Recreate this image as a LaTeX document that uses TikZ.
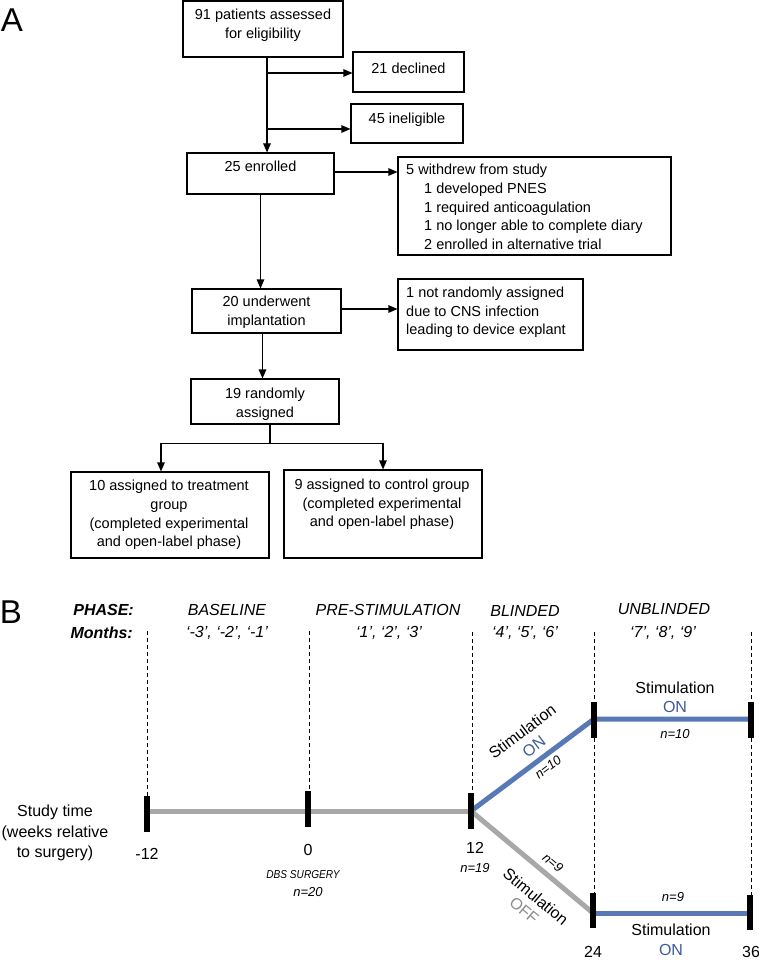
\documentclass[tikz,border=0pt]{standalone}
\usepackage{fontspec}
\setmainfont{Liberation Sans}
\usetikzlibrary{arrows.meta,calc}
\definecolor{stimblue}{RGB}{88,120,182}
\definecolor{onblue}{RGB}{62,90,150}
\definecolor{tlgray}{RGB}{168,168,168}
\definecolor{offgray}{RGB}{140,140,140}
\begin{document}
\begin{tikzpicture}[x=1pt,y=-1pt,
  box/.style={draw,line width=1.1pt,inner sep=0pt,minimum width=#1},
  ftxt/.style={font=\fontsize{14.5}{18.6}\selectfont,inner sep=0pt,align=center},
  ltxt/.style={font=\fontsize{14.5}{18.6}\selectfont,inner sep=0pt,align=left,anchor=west},
  arr/.style={line width=1.1pt,-{Triangle[length=9pt,width=7.5pt]}},
  conn/.style={line width=1.1pt},
  btxt/.style={font=\fontsize{16}{20.5}\selectfont,inner sep=0pt,align=center},
  itxt/.style={font=\fontsize{16}{20}\selectfont\itshape,inner sep=0pt},
  ntxt/.style={font=\fontsize{13}{15}\selectfont\itshape,inner sep=0pt},
  vdash/.style={line width=0.8pt,dash pattern=on 4pt off 3pt},
  bar/.style={line width=6pt},
  panel/.style={font=\fontsize{33}{33}\selectfont,inner sep=0pt}
]
\useasboundingbox (0,0) rectangle (758,960);

% ---------- Panel A ----------
\node[panel] (A) at (12,20) {A};

\node[box=160pt,minimum height=56pt] (b1) at (263,29) {};
\node[ftxt] (b1t) at (263,25) {91 patients assessed\\for eligibility};

\node[box=111pt,minimum height=40pt] (decl) at (408.5,72) {};
\node[ftxt] (declt) at (408.5,68) {21 declined};

\node[box=112pt,minimum height=39pt] (inel) at (407,123.5) {};
\node[ftxt] (inelt) at (407,120) {45 ineligible};

\node[box=147pt,minimum height=41pt] (enr) at (260.5,173.5) {};
\node[ftxt] (enrt) at (260.5,166) {25 enrolled};

\node[box=273pt,minimum height=98pt] (wd) at (534.5,206) {};
\node[ltxt] (wdt) at (406,207) {5 withdrew from study\\
\hspace*{18pt}1 developed PNES\\
\hspace*{18pt}1 required anticoagulation\\
\hspace*{18pt}1 no longer able to complete diary\\
\hspace*{18pt}2 enrolled in alternative trial};

\node[box=149pt,minimum height=44pt] (impl) at (266.5,311) {};
\node[ftxt] (implt) at (266.5,312.5) {20 underwent\\implantation};

\node[box=185pt,minimum height=71pt] (nr) at (490.5,314.5) {};
\node[ltxt] (nrt) at (406,312.5) {1 not randomly assigned\\due to CNS infection\\leading to device explant};

\node[box=148pt,minimum height=45pt] (rand) at (265,401.5) {};
\node[ftxt] (randt) at (265,404) {19 randomly\\assigned};

\node[box=198pt,minimum height=86pt] (trt) at (170,515) {};
\node[ftxt] (trtt) at (169,515) {10 assigned to treatment\\group\\(completed experimental\\and open-label phase)};

\node[box=198pt,minimum height=88pt] (ctl) at (383,514) {};
\node[ftxt] (ctlt) at (382,504.5) {9 assigned to control group\\(completed experimental\\and open-label phase)};

% connectors
\coordinate (v) at ($(b1.south)+(4,0)$);
\draw[arr] (v) -- (v |- enr.north);
\draw[arr] ($(v |- decl.west)+(0,1)$) -- ($(decl.west)+(0,1)$);
\draw[arr] ($(v |- inel.west)+(0,5.5)$) -- ($(inel.west)+(0,5.5)$);
\draw[arr] ($(enr.east)+(0,-1.5)$) -- ($(enr.east -| wd.west)+(0,-1.5)$);
\draw[arr] (enr.south) -- (enr.south |- impl.north);
\draw[arr] ($(impl.east)+(0,-2)$) -- ($(impl.east -| nr.west)+(0,-2)$);
\coordinate (v2) at ($(impl.south)+(-4,0)$);
\draw[arr] (v2) -- (v2 |- rand.north);
\coordinate (sp) at ($(rand.south)+(5,19)$);
\draw[conn] (rand.south -| sp) -- (sp);
\coordinate (tl) at ($(trt.north)+(-9,0)$);
\draw[arr] (sp) -| (tl);
\draw[arr] (sp) -| (ctl.north);

% ---------- Panel B ----------
\node[panel] (B) at (11,612) {B};
\node[font=\fontsize{16}{20}\selectfont\bfseries\itshape,inner sep=0pt,anchor=east] (phase) at (134,610) {PHASE:};
\node[font=\fontsize{16}{20}\selectfont\bfseries\itshape,inner sep=0pt,anchor=east] (months) at (133,633) {Months:};

\node[itxt] (p1) at (227,610) {BASELINE};
\node[itxt] (p2) at (388,610) {PRE-STIMULATION};
\node[itxt] (p3) at (525,611) {BLINDED};
\node[itxt] (p4) at (664,609) {UNBLINDED};
\node[itxt] (m1) at (227,633) {‘-3’, ‘-2’, ‘-1’};
\node[itxt] (m2) at (389,633) {‘1’, ‘2’, ‘3’};
\node[itxt] (m3) at (525,633) {‘4’, ‘5’, ‘6’};
\node[itxt] (m4) at (663,633) {‘7’, ‘8’, ‘9’};

% tick bar positions
\coordinate (t1) at (147,814);
\coordinate (t2) at (308,809);
\coordinate (t3) at (471,811);
\coordinate (t4) at (594,719);
\coordinate (t5) at (751,719);
\coordinate (t6) at (593,913);
\coordinate (t7) at (750,913);

% dashed guides
\draw[vdash] (147,631) -- ($(t1)+(0,-18)$);
\draw[vdash] (309,631) -- ($(t2)+(1,-18)$);
\draw[vdash] (472,632) -- ($(t3)+(1,-18)$);
\draw[vdash] (594,632) -- ($(t4)+(0,-17)$);
\draw[vdash] ($(t4)+(0,19)$) -- ($(t6)+(1,-20)$);
\draw[vdash] (751,632) -- ($(t5)+(0,-17)$);
\draw[vdash] ($(t5)+(0,19)$) -- ($(t7)+(1,-18)$);

% timeline
\draw[tlgray,line width=5pt] (t1 |- t3) -- (t3);
\draw[stimblue,line width=5pt] (t3) -- (t4) -- (t5);
\draw[tlgray,line width=5pt] (t3) -- (t6);
\draw[stimblue,line width=5pt] (t6) -- (t7);

\draw[bar] ($(t1)+(0,-18)$) -- ($(t1)+(0,18)$);
\draw[bar] ($(t2)+(0,-18)$) -- ($(t2)+(0,18)$);
\draw[bar] ($(t3)+(0,-18)$) -- ($(t3)+(0,18)$);
\draw[bar] ($(t4)+(0,-17)$) -- ($(t4)+(0,19)$);
\draw[bar] ($(t5)+(0,-17)$) -- ($(t5)+(0,19)$);
\draw[bar] ($(t6)+(0,-20)$) -- ($(t6)+(0,15)$);
\draw[bar] ($(t7)+(0,-18)$) -- ($(t7)+(0,17)$);

% labels
\node[btxt] (st) at (55,833) {Study time\\(weeks relative\\to surgery)};
\node[btxt] (l1) at (147,854) {-12};
\node[btxt] (l2) at (308,850) {0};
\node[btxt] (l3) at (475,848) {12};
\node[btxt] (l4) at (593,952) {24};
\node[btxt] (l5) at (751,952) {36};
\node[font=\fontsize{11.5}{13}\selectfont\itshape,inner sep=0pt,xscale=0.88] (dbs) at (303,875) {DBS SURGERY};
\node[ntxt] (n20) at (308,892) {n=20};
\node[ntxt] (n19) at (475,868) {n=19};

\node[btxt,font=\fontsize{16}{19.5}\selectfont] (s1) at (675,697.5) {Stimulation\\\textcolor{onblue}{ON}};
\node[ntxt] (n10a) at (675,734) {n=10};

\node[btxt,font=\fontsize{16}{20}\selectfont] (s2) at (671,940) {Stimulation\\\textcolor{onblue}{ON}};
\node[ntxt] (n9a) at (673,897) {n=9};

\node[btxt,rotate=37,font=\fontsize{16}{19}\selectfont] (s3) at (528,739) {Stimulation\\\textcolor{onblue}{ON}};
\node[ntxt,rotate=37] (n10b) at (548,767) {n=10};

\node[ntxt,rotate=-40] (n9b) at (553,863) {n=9};
\node[btxt,rotate=-40,font=\fontsize{16}{18}\selectfont] (s4) at (530,903.5) {Stimulation\\\textcolor{offgray}{OFF}};
\end{tikzpicture}
\end{document}
